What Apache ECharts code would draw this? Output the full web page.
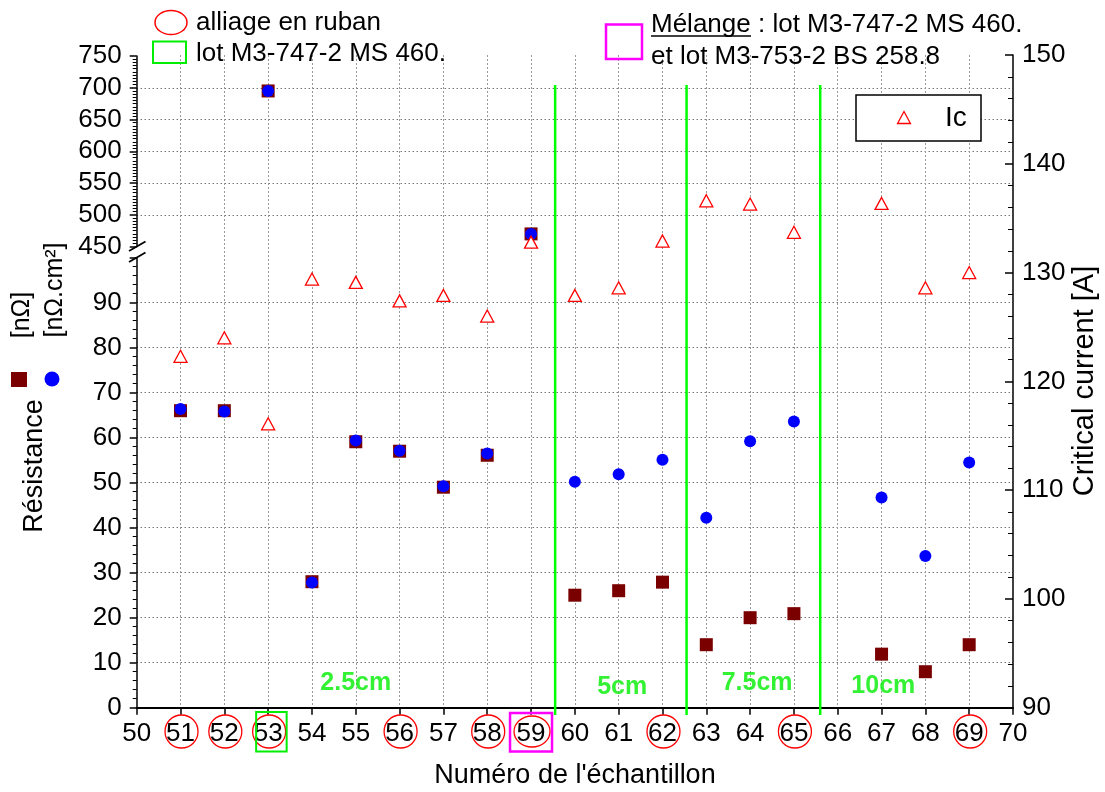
<!DOCTYPE html>
<html>
<head>
<meta charset="utf-8">
<script src="https://cdn.jsdelivr.net/npm/echarts@6/dist/echarts.min.js"></script>
<style>
  html, body { margin: 0; padding: 0; background: #fff; }
  #chart { width: 1105px; height: 792px; }
</style>
</head>
<body>
<div id="chart"></div>
<script>
// Sample numbers (no sample 66)
const samples = [51, 52, 53, 54, 55, 56, 57, 58, 59, 60, 61, 62, 63, 64, 65, 67, 68, 69];
// Resistance [nΩ]
const resistance = [66, 66, 695, 28, 59.1, 57, 49, 56.1, 470, 25, 26, 27.9, 14, 20, 20.9, 11.9, 8, 14];
// Area resistance [nΩ.cm²]
const resistanceArea = [66.4, 65.8, 695, 27.8, 59.4, 57.1, 49.2, 56.5, 470, 50.2, 51.9, 55.1, 42.2, 59.2, 63.6, 46.7, 33.7, 54.5];
// Critical current Ic [A]
const criticalCurrent = [122.3, 124.0, 116.1, 129.4, 129.1, 127.4, 127.9, 126.0, 132.8, 127.9, 128.6, 132.9, 136.6, 136.3, 133.7, 136.35, 128.6, 130.0];

// Broken resistance axis: lower part and upper part
const lowerRange = [0, 100, 10];
const upperRange = [450, 750, 50];
const icRange = [90, 150, 10];
const sampleRange = [50, 70, 1];

// Overlap-length sections
const sectionBreaks = [59.55, 62.55, 65.6];
const sectionNames = ['2.5cm', '5cm', '7.5cm', '10cm'];
const sectionNameAt = [55.0, 61.08, 64.16, 67.04];
const sectionNameY = [5.5, 4.6, 5.5, 4.7];

// Sample groups marked under the sample numbers
const rubanSamples = [51, 52, 53, 56, 58, 59, 62, 65, 69];
const lotMSSamples = [53];
const mixSamples = [59];

const FONT = '"Liberation Sans", Arial, Helvetica, sans-serif';
const TICK_FONT = 26;

function pairs(vals, keep) {
  return samples.map((s, i) => [s, vals[i]]).filter(p => keep(p[1]));
}
const isLow = v => v <= lowerRange[1];
const isHigh = v => v >= upperRange[0];

const chart = echarts.init(document.getElementById('chart'), null, { renderer: 'canvas' });

const L = 136.7, R = 1013, TOP = 55, BOTTOM = 707.7;
const UPPER_BOTTOM = 246.6;
const LOWER_TOP = 257.7;

const hiddenX = (gi) => ({
  gridIndex: gi, type: 'value', min: sampleRange[0], max: sampleRange[1], interval: sampleRange[2], show: false
});

const leftAxisCommon = {
  type: 'value',
  position: 'left',
  axisLine: { show: true, onZero: false, lineStyle: { color: '#000', width: 1.5 } },
  axisTick: { show: true, length: 7, lineStyle: { color: '#000', width: 1.5 } },
  axisLabel: { fontSize: TICK_FONT, color: '#000', fontFamily: FONT, margin: 15 },
  splitLine: {
    show: true, showMinLine: false, showMaxLine: false,
    lineStyle: { color: '#333', type: [1, 3], width: 1 }
  }
};

const markerStyle = (color) => ({ color: color, opacity: 1 });

chart.setOption({
  animation: false,
  backgroundColor: '#fff',
  grid: [
    { left: L, width: R - L, top: TOP + 1, height: UPPER_BOTTOM - TOP - 1, containLabel: false },
    { left: L, width: R - L, top: LOWER_TOP, height: BOTTOM - LOWER_TOP, containLabel: false },
    { left: L, width: R - L, top: TOP, height: BOTTOM - TOP, containLabel: false }
  ],
  xAxis: [
    hiddenX(0),
    hiddenX(1),
    {
      gridIndex: 2, type: 'value', min: sampleRange[0], max: sampleRange[1], interval: sampleRange[2],
      axisLine: { show: true, onZero: false, lineStyle: { color: '#000', width: 2 } },
      axisTick: { show: true, length: 7, lineStyle: { color: '#000', width: 1.5 } },
      axisLabel: { fontSize: TICK_FONT, color: '#000', fontFamily: FONT, margin: 13 },
      splitLine: {
        show: true, showMinLine: false, showMaxLine: false,
        lineStyle: { color: '#999', type: [2, 2], width: 1 }
      }
    }
  ],
  yAxis: [
    Object.assign({}, leftAxisCommon, {
      gridIndex: 0, min: upperRange[0], max: upperRange[1], interval: upperRange[2],
      minorTick: { show: true, splitNumber: 10, length: 4, lineStyle: { color: '#000', width: 1 } }
    }),
    Object.assign({}, leftAxisCommon, {
      gridIndex: 1, min: lowerRange[0], max: lowerRange[1], interval: lowerRange[2],
      minorTick: { show: true, splitNumber: 5, length: 4, lineStyle: { color: '#000', width: 1 } },
      axisLabel: Object.assign({}, leftAxisCommon.axisLabel, {
        formatter: v => (v >= lowerRange[1] ? '' : String(v))
      })
    }),
    {
      gridIndex: 2, type: 'value', position: 'right',
      min: icRange[0], max: icRange[1], interval: icRange[2],
      axisLine: { show: true, onZero: false, lineStyle: { color: '#000', width: 1.5 } },
      axisTick: { show: true, inside: true, length: 8, lineStyle: { color: '#000', width: 1.5 } },
      minorTick: { show: true, splitNumber: 5, length: 5, lineStyle: { color: '#000', width: 1 } },
      axisLabel: { fontSize: TICK_FONT, color: '#000', fontFamily: FONT, margin: 9 },
      splitLine: { show: false }
    }
  ],
  series: [
    {
      name: 'R', type: 'scatter', xAxisIndex: 1, yAxisIndex: 1, z: 2,
      symbol: 'rect', symbolSize: 13, itemStyle: markerStyle('#7a0000'),
      data: pairs(resistance, isLow)
    },
    {
      name: 'R', type: 'scatter', xAxisIndex: 0, yAxisIndex: 0, z: 2,
      symbol: 'rect', symbolSize: 13, itemStyle: markerStyle('#7a0000'),
      data: pairs(resistance, isHigh)
    },
    {
      name: 'R.S', type: 'scatter', xAxisIndex: 1, yAxisIndex: 1, z: 3,
      symbol: 'circle', symbolSize: 12, itemStyle: markerStyle('#0000ff'),
      data: pairs(resistanceArea, isLow)
    },
    {
      name: 'R.S', type: 'scatter', xAxisIndex: 0, yAxisIndex: 0, z: 3,
      symbol: 'circle', symbolSize: 12, itemStyle: markerStyle('#0000ff'),
      data: pairs(resistanceArea, isHigh)
    },
    {
      name: 'Ic', type: 'scatter', xAxisIndex: 2, yAxisIndex: 2, z: 4,
      symbol: 'triangle', symbolSize: [13, 12],
      itemStyle: { color: '#fff', borderColor: '#ff0000', borderWidth: 1.3, opacity: 1 },
      data: samples.map((s, i) => [s, criticalCurrent[i]])
    },
    {
      name: 'sections', type: 'scatter', xAxisIndex: 1, yAxisIndex: 1, z: 5,
      symbolSize: 1, itemStyle: { color: 'rgba(0,0,0,0)' }, silent: true,
      label: {
        show: true, position: 'inside', formatter: p => p.data[2],
        color: '#00ee00', fontWeight: 'bold', fontSize: 25, fontFamily: FONT
      },
      data: sectionNames.map((n, i) => [sectionNameAt[i], sectionNameY[i], n])
    }
  ]
});

// Decorations placed through the axis scales
const xPix = v => chart.convertToPixel({ gridIndex: 2 }, [v, icRange[0]])[0];
const gfx = [];

sectionBreaks.forEach(b => {
  const x = xPix(b);
  gfx.push({ type: 'line', z: 50, shape: { x1: x, y1: 85, x2: x, y2: 715 },
    style: { stroke: '#00ff00', lineWidth: 2.5 } });
});

rubanSamples.forEach(s => {
  const x = xPix(s) + 1;
  const wide = mixSamples.includes(s);
  gfx.push({ type: 'ellipse', z: 50, shape: { cx: x, cy: 731.5, rx: wide ? 18 : 16.5, ry: wide ? 15.5 : 16.5 },
    style: { fill: 'none', stroke: '#ff0000', lineWidth: 1.3 } });
});
lotMSSamples.forEach(s => {
  const x = xPix(s);
  gfx.push({ type: 'rect', z: 50, shape: { x: x - 12, y: 712, width: 30.5, height: 39.5 },
    style: { fill: 'none', stroke: '#00ee00', lineWidth: 2 } });
});
mixSamples.forEach(s => {
  const x = xPix(s);
  gfx.push({ type: 'rect', z: 50, shape: { x: x - 21, y: 713, width: 42, height: 38.5 },
    style: { fill: 'none', stroke: '#ff00ff', lineWidth: 2.5 } });
});

// Axis break marks
gfx.push({ type: 'line', z: 50, shape: { x1: 129, y1: 251, x2: 145.5, y2: 241.5 },
  style: { stroke: '#000', lineWidth: 1.8 } });
gfx.push({ type: 'line', z: 50, shape: { x1: 129, y1: 262, x2: 145.5, y2: 252.5 },
  style: { stroke: '#000', lineWidth: 1.8 } });

// Top legends
const legendText = (t, x, y) => ({ type: 'text', z: 50, x, y,
  style: { text: t, fontSize: 26, fontFamily: FONT, fill: '#000', textAlign: 'left', textVerticalAlign: 'middle' } });
gfx.push({ type: 'ellipse', z: 50, shape: { cx: 171, cy: 22.5, rx: 16, ry: 12 },
  style: { fill: 'none', stroke: '#ff0000', lineWidth: 1.5 } });
gfx.push(legendText('alliage en ruban', 196, 23));
gfx.push({ type: 'rect', z: 50, shape: { x: 153, y: 41.5, width: 33, height: 21.5 },
  style: { fill: 'none', stroke: '#00ee00', lineWidth: 2 } });
gfx.push(legendText('lot M3-747-2 MS 460.', 196, 54));
gfx.push({ type: 'rect', z: 50, shape: { x: 606, y: 24.5, width: 36, height: 34.5 },
  style: { fill: 'none', stroke: '#ff00ff', lineWidth: 2.5 } });
gfx.push(legendText('Mélange : lot M3-747-2 MS 460.', 651, 25));
gfx.push({ type: 'line', z: 50, shape: { x1: 651, y1: 36, x2: 751, y2: 36 },
  style: { stroke: '#000', lineWidth: 1.5 } });
gfx.push(legendText('et lot M3-753-2 BS 258.8', 651, 57));

// Ic legend box
gfx.push({ type: 'rect', z: 50, shape: { x: 856, y: 95, width: 125, height: 46 },
  style: { fill: '#fff', stroke: '#000', lineWidth: 1.5 } });
gfx.push({ type: 'polygon', z: 51, shape: { points: [[897.5, 123.5], [910.5, 123.5], [904, 111.5]] },
  style: { fill: '#fff', stroke: '#ff0000', lineWidth: 1.3 } });
gfx.push({ type: 'text', z: 51, x: 945, y: 118,
  style: { text: 'Ic', fontSize: 28, fontFamily: FONT, fill: '#000', textAlign: 'left', textVerticalAlign: 'middle' } });

// Axis titles
gfx.push({ type: 'text', z: 50, x: 575, y: 776,
  style: { text: "Numéro de l'échantillon", fontSize: 27, fontFamily: FONT, fill: '#000', textAlign: 'center', textVerticalAlign: 'middle' } });
gfx.push({ type: 'text', z: 50, x: 1085, y: 381, rotation: Math.PI / 2,
  style: { text: 'Critical current [A]', fontSize: 29, fontFamily: FONT, fill: '#000', textAlign: 'center', textVerticalAlign: 'middle' } });
gfx.push({ type: 'text', z: 50, x: 35, y: 466, rotation: Math.PI / 2,
  style: { text: 'Résistance', fontSize: 27, fontFamily: FONT, fill: '#000', textAlign: 'center', textVerticalAlign: 'middle' } });
gfx.push({ type: 'text', z: 50, x: 22, y: 315, rotation: Math.PI / 2,
  style: { text: '[nΩ]', fontSize: 25, fontFamily: FONT, fill: '#000', textAlign: 'center', textVerticalAlign: 'middle' } });
gfx.push({ type: 'text', z: 50, x: 55, y: 290, rotation: Math.PI / 2,
  style: { text: '[nΩ.cm²]', fontSize: 25, fontFamily: FONT, fill: '#000', textAlign: 'center', textVerticalAlign: 'middle' } });
gfx.push({ type: 'rect', z: 50, shape: { x: 11, y: 372, width: 16, height: 15 },
  style: { fill: '#7a0000' } });
gfx.push({ type: 'circle', z: 50, shape: { cx: 52, cy: 379, r: 7.5 },
  style: { fill: '#0000ff' } });

chart.setOption({ graphic: gfx });
</script>
</body>
</html>
